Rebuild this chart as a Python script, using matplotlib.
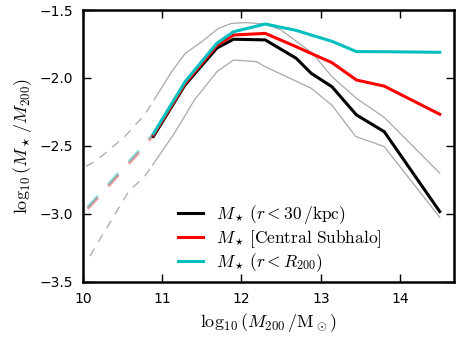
import numpy as np
import matplotlib
matplotlib.use('Agg')
import matplotlib.pyplot as plt

plt.rcParams['mathtext.fontset'] = 'cm'
plt.rcParams['font.family'] = 'DejaVu Sans'

# main curves (solid part, resolved haloes)
x_main = [10.89, 11.29, 11.69, 11.9, 12.3, 12.69, 12.88, 13.14, 13.45, 13.8, 14.5]
y_30kpc = [-2.43, -2.05, -1.78, -1.715, -1.72, -1.855, -1.966, -2.064, -2.272, -2.395, -2.983]
y_sub = [-2.42, -2.04, -1.76, -1.684, -1.672, -1.77, -1.82, -1.887, -2.015, -2.06, -2.267]
y_r200 = [-2.41, -2.027, -1.745, -1.66, -1.603, -1.65, -1.684, -1.73, -1.806, -1.807, -1.811]

# extrapolated part (dashed)
x_ext = [10.06, 10.27, 10.46, 10.67, 10.89]
y_ext_sub = [-2.962, -2.830, -2.706, -2.572, -2.42]
y_ext_r200 = [-2.950, -2.816, -2.692, -2.558, -2.41]

# scatter envelope
x_hi = [10.9, 11.12, 11.29, 11.5, 11.71, 11.875, 12.06, 12.3, 12.5, 12.9, 13.14, 13.45, 13.8, 14.5]
y_hi = [-2.16, -1.954, -1.82, -1.733, -1.635, -1.598, -1.593, -1.603, -1.647, -1.82, -1.99, -2.15, -2.29, -2.70]
x_lo = [10.88, 11.14, 11.41, 11.69, 11.9, 12.19, 12.3, 12.88, 13.14, 13.44, 13.8, 14.5]
y_lo = [-2.64, -2.42, -2.16, -1.954, -1.868, -1.88, -1.917, -2.076, -2.2, -2.43, -2.505, -3.025]
x_hi_ext = [10.04, 10.15, 10.29, 10.53, 10.78, 10.9]
y_hi_ext = [-2.65, -2.615, -2.55, -2.43, -2.27, -2.16]
x_lo_ext = [10.09, 10.40, 10.59, 10.76, 10.88]
y_lo_ext = [-3.31, -3.007, -2.824, -2.74, -2.64]

grey = '#a8a8a8'

fig = plt.figure(figsize=(4.6, 3.45), dpi=100)
ax = fig.add_axes([0.18, 0.183, 0.807, 0.788])

ax.plot(x_hi, y_hi, color=grey, lw=0.9)
ax.plot(x_lo, y_lo, color=grey, lw=0.9)
ax.plot(x_hi_ext, y_hi_ext, color=grey, lw=0.9, ls=(0, (7, 6)))
ax.plot(x_lo_ext, y_lo_ext, color=grey, lw=0.9, ls=(0, (7, 6)))

ax.plot(x_ext, y_ext_sub, color='r', lw=2.2, alpha=0.4, ls=(0, (5, 5)))
ax.plot(x_ext, y_ext_r200, color='c', lw=2.2, alpha=0.4, ls=(0, (5, 5)))

ax.plot(x_main, y_30kpc, color='k', lw=2.2, label=r'$M_\star\,(r<30\,/\mathrm{kpc})$')
ax.plot(x_main, y_sub, color='r', lw=2.2, label=r'$M_\star\,[\mathrm{Central\ Subhalo}]$')
ax.plot(x_main, y_r200, color='c', lw=2.2, label=r'$M_\star\,(r<R_{200})$')

ax.set_xlim(10, 14.68)
ax.set_ylim(-3.5, -1.5)
ax.set_xticks([10, 11, 12, 13, 14])
ax.set_yticks([-3.5, -3.0, -2.5, -2.0, -1.5])
ax.tick_params(direction='in', top=True, right=True, length=6, width=1, labelsize=10, pad=7)
for s in ax.spines.values():
    s.set_linewidth(1.8)

ax.set_xlabel(r'$\log_{10}(M_{200}\,/\mathrm{M}_\odot)$', fontsize=13)
ax.set_ylabel(r'$\log_{10}(M_\star\,/M_{200})$', fontsize=13)

ax.legend(loc='lower left', bbox_to_anchor=(0.215, -0.03), frameon=False, fontsize=12.5,
          handlelength=1.4, handletextpad=0.8, labelspacing=0.12)

fig.savefig('out.png', dpi=100)
